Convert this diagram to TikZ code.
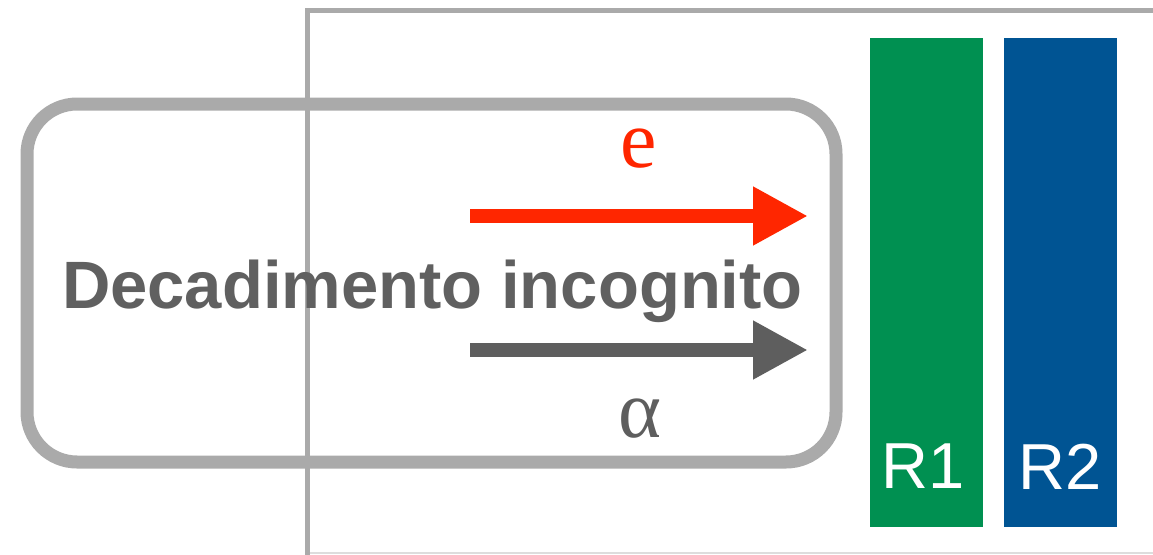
\documentclass[tikz,border=0pt]{standalone}
\usepackage{fontspec}
\newfontfamily\tms{LiberationSerif-Regular.ttf}
\newfontfamily\helv{Liberation Sans}
\usetikzlibrary{arrows.meta}
\definecolor{framegray}{HTML}{AAAAAA}
\definecolor{textgray}{HTML}{606060}
\definecolor{arrowgray}{HTML}{5E5E5E}
\definecolor{ered}{HTML}{FF2600}
\definecolor{rgreen}{HTML}{009051}
\definecolor{rblue}{HTML}{005493}
\tikzset{
  bar/.style={inner sep=0pt, outer sep=0pt, minimum width=113pt, minimum height=489pt},
  barlabel/.style={text=white, font=\helv\fontsize{65}{65}\selectfont, inner sep=0pt},
  particle/.style={-{Triangle[length=55pt,width=55pt]}, line width=14pt},
  plabel/.style={inner sep=0pt, font=\tms\fontsize{82}{82}\selectfont}
}
\begin{document}
\begin{tikzpicture}[x=1pt,y=-1pt]
\useasboundingbox (0,0) rectangle (1153,554);
% outer frame
\draw[framegray!40, line width=1.5pt] (307,553) -- (1160,553);
\draw[framegray, line width=5pt] (307,560) -- (307,10) -- (1160,10);
% rounded box
\node (box) [draw=framegray, line width=13pt, rounded corners=50pt,
  minimum width=809pt, minimum height=358pt, inner sep=0pt] at (431.5,283) {};
\node (title) [anchor=base, text=textgray, inner sep=0pt,
  font=\helv\bfseries\fontsize{67}{67}\selectfont] at (432.5,308) {Decadimento incognito};
% arrows
\coordinate (es) at (470,216);
\coordinate (ee) at (808,216);
\coordinate (as) at (470,350);
\coordinate (ae) at (808,350);
\draw[particle, ered] (es) -- (ee);
\draw[particle, arrowgray] (as) -- (ae);
\node (elab) [plabel, text=ered] at (638.5,149) {e};
\node (alab) [plabel, text=arrowgray] at (640,419) {α};
% detectors
\node (r1) [bar, fill=rgreen] at (926.5,282.5) {};
\node (r2) [bar, fill=rblue] at (1060.5,282.5) {};
\node (r1l) [barlabel] at (923.5,466.5) {R1};
\node (r2l) [barlabel] at (1060.5,466.5) {R2};
\end{tikzpicture}
\end{document}
